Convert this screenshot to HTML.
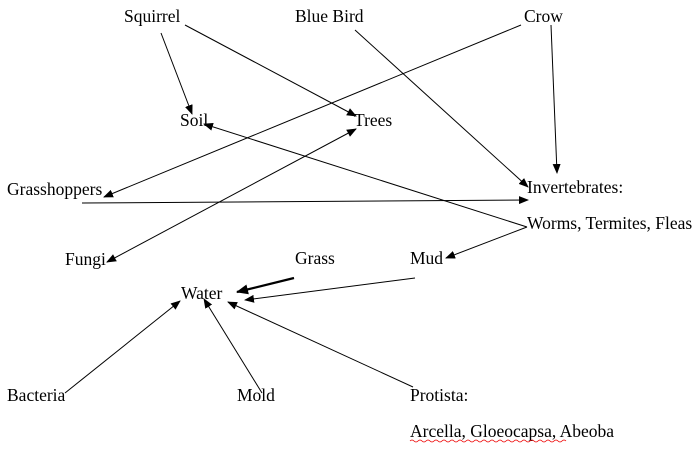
<!DOCTYPE html>
<html><head><meta charset="utf-8"><style>
html,body{margin:0;padding:0;background:#fff;}
svg{display:block;}
text{font-family:"Liberation Serif",serif;font-size:17.5px;fill:#000;}
</style></head><body>
<svg width="698" height="456" viewBox="0 0 698 456" xmlns="http://www.w3.org/2000/svg">
<defs>
<marker id="a" markerWidth="10" markerHeight="8" refX="9" refY="4" orient="auto" markerUnits="userSpaceOnUse">
<path d="M0,0 L10,4 L0,8 Z" fill="#000"/></marker>
<marker id="s" markerWidth="10" markerHeight="8" refX="1" refY="4" orient="auto" markerUnits="userSpaceOnUse">
<path d="M10,0 L0,4 L10,8 Z" fill="#000"/></marker>
<marker id="b" markerWidth="12" markerHeight="10" refX="11" refY="5" orient="auto" markerUnits="userSpaceOnUse">
<path d="M0,0 L12,5 L0,10 Z" fill="#000"/></marker>
</defs>
<g stroke="#000" stroke-width="1" fill="none" marker-end="url(#a)">
<line x1="161" y1="33" x2="192" y2="114"/>
<line x1="185" y1="25" x2="356" y2="116"/>
<line x1="355" y1="30" x2="528" y2="187"/>
<line x1="521" y1="25" x2="104" y2="197"/>
<line x1="551" y1="25" x2="557" y2="173"/>
<line x1="107" y1="262" x2="356" y2="129" marker-start="url(#s)"/>
<line x1="527" y1="227" x2="204" y2="124"/>
<line x1="82" y1="203" x2="528" y2="200"/>
<line x1="527" y1="227" x2="446" y2="258"/>
<line x1="415" y1="278" x2="245" y2="300"/>
<line x1="65" y1="393" x2="180" y2="301"/>
<line x1="262" y1="393" x2="204" y2="299"/>
<line x1="413" y1="387" x2="228" y2="302"/>
</g>
<line x1="294" y1="278" x2="237" y2="292" stroke="#000" stroke-width="2.2" marker-end="url(#b)"/>
<text x="124" y="22">Squirrel</text>
<text x="295" y="22">Blue Bird</text>
<text x="524" y="22">Crow</text>
<text x="180" y="126">Soil</text>
<text x="354" y="126">Trees</text>
<text x="7" y="195">Grasshoppers</text>
<text x="527" y="193">Invertebrates:</text>
<text x="527" y="229">Worms, Termites, Fleas</text>
<text x="65" y="265">Fungi</text>
<text x="295" y="264">Grass</text>
<text x="410" y="264">Mud</text>
<text x="181" y="299">Water</text>
<text x="7" y="401">Bacteria</text>
<text x="237" y="401">Mold</text>
<text x="410" y="401">Protista:</text>
<text x="410" y="437">Arcella, Gloeocapsa, Abeoba</text>
<path d="M410,441 q2,-2 4,0 t4,0 t4,0 t4,0 t4,0 t4,0 t4,0 t4,0 t4,0 t4,0 t4,0 t4,0 t4,0 t4,0 t4,0 t4,0 t4,0 t4,0 t4,0 t4,0 t4,0 t4,0 t4,0 t4,0 t4,0 t4,0 t4,0 t4,0 t4,0 t4,0 t4,0 t4,0 t4,0 t4,0 t4,0 t4,0 t4,0 t4,0 t4,0" stroke="#e00" stroke-width="0.8" fill="none"/>
</svg>
</body></html>
